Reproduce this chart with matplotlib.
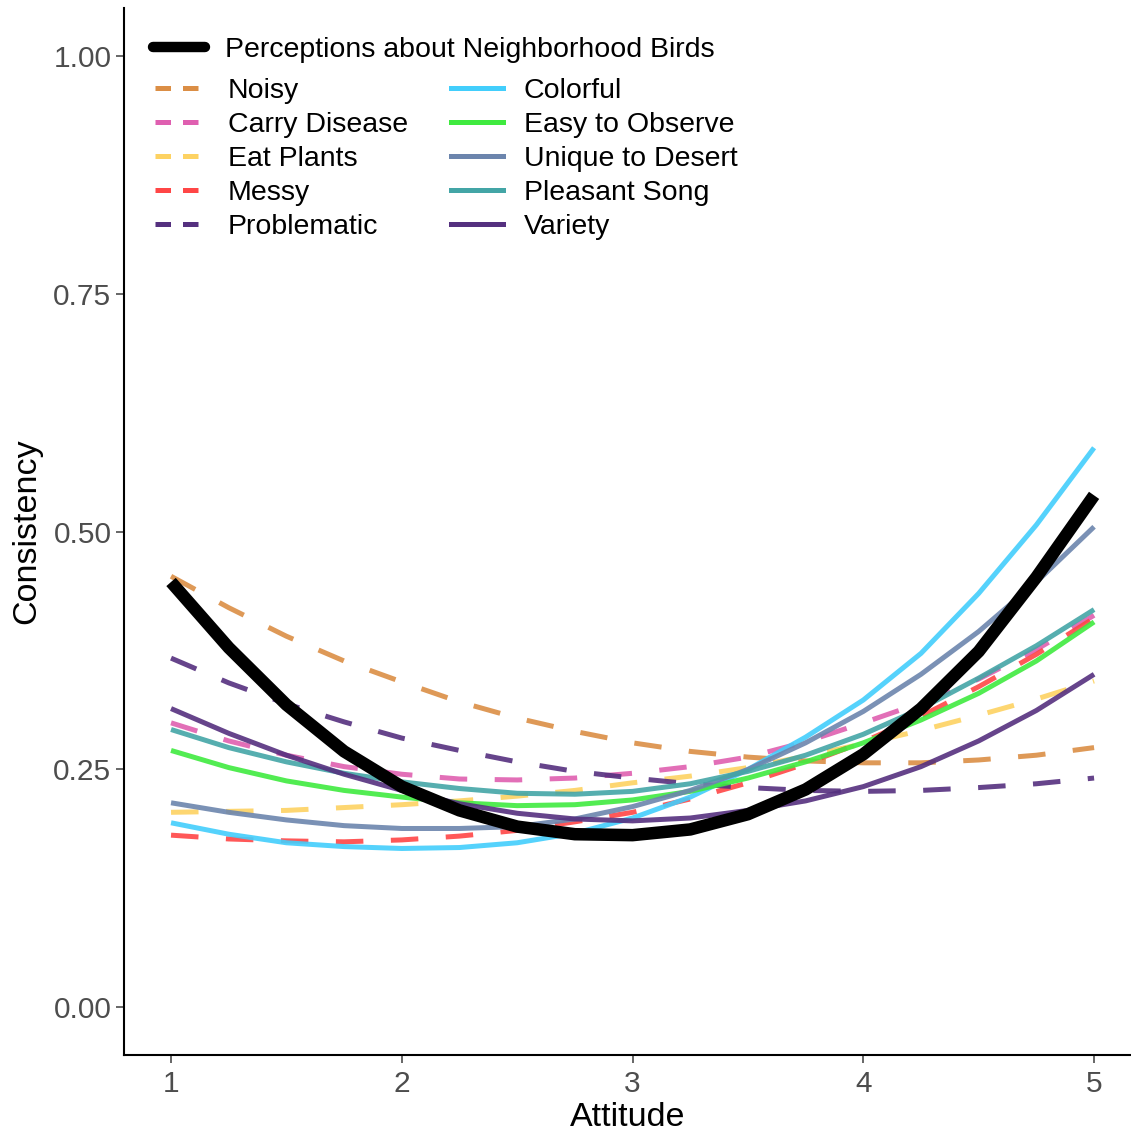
import numpy as np
import matplotlib.pyplot as plt
from matplotlib.lines import Line2D

plt.rcParams['font.family'] = ['Liberation Sans', 'DejaVu Sans']

# fitted consistency at each attitude level
attitude = [1, 1.25, 1.5, 1.75, 2, 2.25, 2.5, 2.75, 3,
            3.25, 3.5, 3.75, 4, 4.25, 4.5, 4.75, 5]

perceptions = [0.447, 0.378, 0.318, 0.269, 0.232, 0.207, 0.190, 0.182, 0.181,
               0.187, 0.203, 0.229, 0.266, 0.314, 0.374, 0.452, 0.538]

noisy = [0.453, 0.420, 0.390, 0.364, 0.342, 0.321, 0.304, 0.290, 0.278,
         0.269, 0.263, 0.259, 0.257, 0.257, 0.260, 0.265, 0.273]
carry_disease = [0.299, 0.280, 0.265, 0.253, 0.245, 0.240, 0.239, 0.241, 0.246,
                 0.253, 0.263, 0.279, 0.299, 0.320, 0.345, 0.376, 0.412]
eat_plants = [0.205, 0.206, 0.207, 0.210, 0.213, 0.217, 0.222, 0.228, 0.236,
              0.243, 0.252, 0.264, 0.277, 0.291, 0.307, 0.324, 0.343]
messy = [0.181, 0.177, 0.175, 0.174, 0.176, 0.180, 0.186, 0.195, 0.205,
         0.219, 0.236, 0.256, 0.279, 0.306, 0.337, 0.371, 0.409]
problematic = [0.367, 0.341, 0.319, 0.300, 0.283, 0.270, 0.258, 0.248, 0.241,
               0.235, 0.231, 0.228, 0.227, 0.228, 0.231, 0.235, 0.241]

colorful = [0.194, 0.182, 0.173, 0.169, 0.167, 0.168, 0.173, 0.183, 0.199,
            0.221, 0.250, 0.284, 0.323, 0.372, 0.435, 0.507, 0.588]
easy_observe = [0.270, 0.252, 0.238, 0.228, 0.221, 0.215, 0.212, 0.213, 0.218,
                0.227, 0.241, 0.258, 0.278, 0.302, 0.330, 0.364, 0.405]
unique_desert = [0.215, 0.205, 0.197, 0.191, 0.188, 0.188, 0.190, 0.198, 0.211,
                 0.228, 0.250, 0.278, 0.311, 0.350, 0.395, 0.447, 0.505]
pleasant_song = [0.292, 0.273, 0.258, 0.246, 0.237, 0.230, 0.225, 0.224, 0.227,
                 0.235, 0.248, 0.265, 0.287, 0.314, 0.346, 0.380, 0.418]
variety = [0.314, 0.288, 0.265, 0.245, 0.228, 0.214, 0.204, 0.198, 0.196,
           0.199, 0.207, 0.217, 0.232, 0.253, 0.280, 0.312, 0.350]

negative_items = ["Noisy", "Carry Disease", "Eat Plants", "Messy", "Problematic"]
negative_values = [noisy, carry_disease, eat_plants, messy, problematic]
negative_colors = ["#DB8E45", "#DF5FB0", "#FDD262", "#FF4646", "#55307F"]

positive_items = ["Colorful", "Easy to Observe", "Unique to Desert", "Pleasant Song", "Variety"]
positive_values = [colorful, easy_observe, unique_desert, pleasant_song, variety]
positive_colors = ["#42CEFC", "#3FEA3F", "#6C85AD", "#43A5A6", "#55307F"]

fig = plt.figure(figsize=(11.31, 11.32), dpi=100)
ax = fig.add_axes([0.1096, 0.068, 0.8904, 0.9249])

lw = 3.6
handles = []
for name, vals, col in zip(negative_items, negative_values, negative_colors):
    ax.plot(attitude, vals, color=col, lw=lw, alpha=0.9, dashes=(5.5, 5.5),
            dash_capstyle='butt')
    handles.append(Line2D([], [], color=col, lw=lw, dashes=(3.1, 2.4), label=name))
for name, vals, col in zip(positive_items, positive_values, positive_colors):
    ax.plot(attitude, vals, color=col, lw=lw, alpha=0.9, solid_capstyle='butt')
    handles.append(Line2D([], [], color=col, lw=lw, label=name))

ax.plot(attitude, perceptions, color='black', lw=9, solid_capstyle='butt',
        solid_joinstyle='round')

ax.set_xlim(0.796, 5.16)
ax.set_ylim(-0.05, 1.05)
ax.set_xticks([1, 2, 3, 4, 5])
ax.set_yticks([0, 0.25, 0.5, 0.75, 1.0])
ax.set_yticklabels(["0.00", "0.25", "0.50", "0.75", "1.00"])
ax.tick_params(labelsize=21.5, colors='#4D4D4D', length=6, width=1.2)
ax.tick_params(axis='x', pad=5)
ax.tick_params(axis='y', pad=3)
ax.set_xlabel("Attitude", fontsize=24.5, labelpad=3)
ax.set_ylabel("Consistency", fontsize=24.5, labelpad=8)
for side in ['top', 'right']:
    ax.spines[side].set_visible(False)
for side in ['left', 'bottom']:
    ax.spines[side].set_linewidth(1.5)

leg1 = ax.legend(handles=[Line2D([], [], color='black', lw=7.5, solid_capstyle='round',
                                 label="Perceptions about Neighborhood Birds")],
                 loc='upper left', bbox_to_anchor=(0.003, 0.997), frameon=False,
                 fontsize=20.5, handlelength=1.85, handletextpad=0.7)
ax.add_artist(leg1)
ax.legend(handles=handles, ncol=2, loc='upper left', bbox_to_anchor=(0.005, 0.958),
          frameon=False, fontsize=20.5, handlelength=1.85, handletextpad=0.72,
          columnspacing=1.5, labelspacing=0.28)

fig.savefig("out.png", dpi=100)
